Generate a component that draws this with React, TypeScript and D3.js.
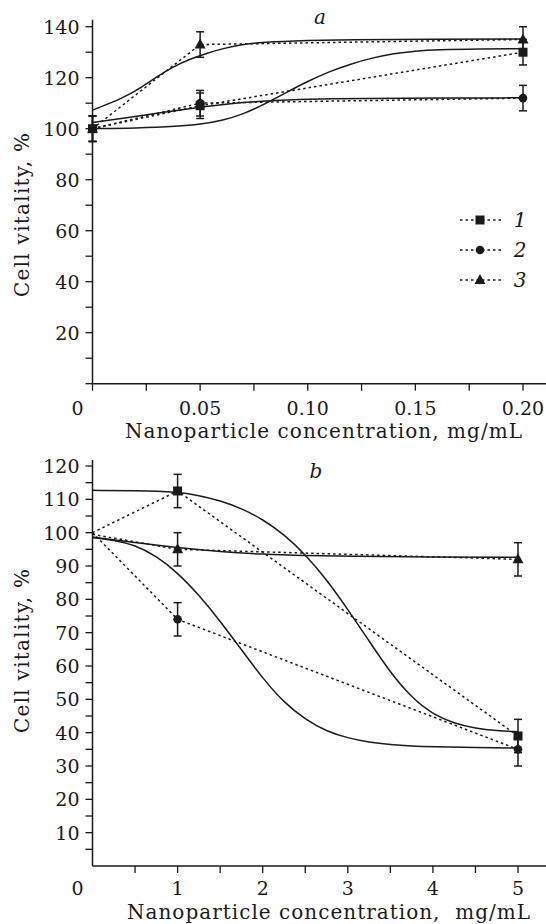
import React from "react";
import * as d3 from "d3";

// ---------- data: panel a ----------
const concA = [0, 0.05, 0.2];
const vitA1 = [100, 109, 130];
const vitA2 = [100, 110, 112];
const vitA3 = [100, 133, 135];
const errA = [5, 5, 5];

const fitA1X = [0, 0.02, 0.04, 0.05, 0.06, 0.07, 0.08, 0.09, 0.1, 0.11, 0.12, 0.13, 0.14, 0.15, 0.16, 0.18, 0.2];
const fitA1Y = [100, 100.2, 100.9, 101.7, 103.1, 105.7, 109.6, 114.2, 118.6, 122.4, 125.4, 127.8, 129.5, 130.5, 131, 131.3, 131.4];
const fitA2X = [0, 0.015, 0.03, 0.045, 0.06, 0.075, 0.09, 0.11, 0.14, 0.2];
const fitA2Y = [102.4, 104.2, 106, 107.9, 109.5, 110.6, 111.3, 111.8, 112, 112.1];
const fitA3X = [0, 0.014, 0.022, 0.03, 0.0375, 0.045, 0.053, 0.061, 0.068, 0.076, 0.092, 0.12, 0.16, 0.2];
const fitA3Y = [107.3, 111.9, 115.8, 120.4, 124.3, 127.2, 129.6, 131.5, 132.8, 133.7, 134.4, 134.9, 135.1, 135.2];

const xTicksA = [0, 0.025, 0.05, 0.075, 0.1, 0.125, 0.15, 0.175, 0.2];
const xLabelsA = [0.05, 0.1, 0.15, 0.2];
const yTicksA = d3.range(0, 141, 10);
const yLabelsA = [20, 40, 60, 80, 100, 120, 140];

// ---------- data: panel b ----------
const concB = [0, 1, 5];
const vitB1 = [100, 112.5, 39];
const vitB2 = [100, 74, 35];
const vitB3 = [99.5, 95, 92];
const errB = [0, 5, 5];

const fitB1X = [0, 0.5, 1, 1.25, 1.5, 1.75, 2, 2.25, 2.5, 2.75, 3, 3.25, 3.5, 3.75, 4, 4.25, 4.5, 4.75, 5];
const fitB1Y = [112.7, 112.6, 112.2, 111.2, 109.6, 107.3, 104, 99.5, 93.5, 86, 77, 67.5, 58, 50.5, 45.5, 42.8, 41.3, 40.6, 40.3];
const fitB2X = [0, 0.25, 0.5, 0.75, 1, 1.25, 1.5, 1.75, 2, 2.25, 2.5, 2.75, 3, 3.25, 3.5, 3.75, 4, 4.5, 5];
const fitB2Y = [98.5, 97.8, 96.3, 93, 88, 81.3, 73.5, 64.9, 56.3, 49, 44, 40.4, 38.4, 37.1, 36.4, 36, 35.8, 35.5, 35.4];
const fitB3X = [0, 0.5, 1, 1.5, 2, 2.5, 3, 4, 5];
const fitB3Y = [98.7, 97, 95.5, 94.3, 93.5, 93.1, 92.9, 92.7, 92.6];

const xTicksB = [0.5, 1, 1.5, 2, 2.5, 3, 3.5, 4, 4.5, 5];
const xLabelsB = [1, 2, 3, 4, 5];
const yTicksB = d3.range(5, 121, 5);
const yLabelsB = d3.range(10, 121, 10);

const legendLabels = ["1", "2", "3"];
const markerTypes = ["square", "circle", "triangle"];

const FONT = "'DejaVu Serif', serif";
const INK = "#1a1a1a";

function Marker({ type, x, y }: { type: string; x: number; y: number }) {
  if (type === "square") return <rect x={x - 4.5} y={y - 4.5} width={9} height={9} fill={INK} />;
  if (type === "circle") return <circle cx={x} cy={y} r={4.3} fill={INK} />;
  const p = d3.path();
  p.moveTo(x, y - 6);
  p.lineTo(x + 5.5, y + 4);
  p.lineTo(x - 5.5, y + 4);
  p.closePath();
  return <path d={p.toString()} fill={INK} />;
}

function ErrBar({ x, y0, y1 }: { x: number; y0: number; y1: number }) {
  return (
    <g stroke={INK} strokeWidth={1.5}>
      <line x1={x} x2={x} y1={y0} y2={y1} />
      <line x1={x - 4} x2={x + 4} y1={y0} y2={y0} />
      <line x1={x - 4} x2={x + 4} y1={y1} y2={y1} />
    </g>
  );
}

type Panel = {
  x: d3.ScaleLinear<number, number>;
  y: d3.ScaleLinear<number, number>;
  yTop: number;
  xRight: number;
  xTicks: number[];
  xLabels: number[];
  xFmt: (v: number) => string;
  yTicks: number[];
  yLabels: number[];
  conc: number[];
  vits: number[][];
  err: number[];
  markerFrom: number;
  fits: [number[], number[]][];
  letter: string;
  letterX: number;
  letterY: number;
  xTitle: string;
  xTitleX: number;
  xTitleY: number;
  xTitleLen: number;
  yTitleY: number;
  tickLabelY: number;
};

function PanelView({ p }: { p: Panel }) {
  const x0 = p.x(0);
  const yAxisBottom = p.y(0);
  const dotted = d3
    .line<[number, number]>()
    .x((d) => p.x(d[0]))
    .y((d) => p.y(d[1]));
  const smooth = d3
    .line<[number, number]>()
    .x((d) => p.x(d[0]))
    .y((d) => p.y(d[1]))
    .curve(d3.curveBasis);
  return (
    <g>
      {/* axes */}
      <line x1={x0} x2={x0} y1={p.y(p.yTop)} y2={yAxisBottom} stroke={INK} strokeWidth={1.5} />
      <line x1={x0} x2={p.xRight} y1={yAxisBottom} y2={yAxisBottom} stroke={INK} strokeWidth={1.5} />
      {p.yTicks.map((t) => (
        <line key={"yt" + t} x1={x0 - 7} x2={x0} y1={p.y(t)} y2={p.y(t)} stroke={INK} strokeWidth={1.3} />
      ))}
      {p.yLabels.map((t) => (
        <text key={"yl" + t} x={x0 - 13} y={p.y(t)} dy="0.36em" textAnchor="end" fontSize={19} fontFamily={FONT} fill={INK}>
          {t}
        </text>
      ))}
      {p.xTicks.map((t) => (
        <line key={"xt" + t} x1={p.x(t)} x2={p.x(t)} y1={yAxisBottom} y2={yAxisBottom + 7} stroke={INK} strokeWidth={1.3} />
      ))}
      {p.xLabels.map((t) => (
        <text key={"xl" + t} x={p.x(t)} y={p.tickLabelY} textAnchor="middle" fontSize={19} fontFamily={FONT} fill={INK}>
          {p.xFmt(t)}
        </text>
      ))}
      <text x={x0 - 15} y={p.tickLabelY} textAnchor="middle" fontSize={19} fontFamily={FONT} fill={INK}>
        0
      </text>
      <text
        x={p.xTitleX}
        y={p.xTitleY}
        textAnchor="middle"
        fontSize={20}
        fontFamily={FONT}
        fill={INK}
        textLength={p.xTitleLen}
        lengthAdjust="spacing"
        style={{ whiteSpace: "pre" }}
      >
        {p.xTitle}
      </text>
      <text
        transform={`translate(29,${p.yTitleY}) rotate(-90)`}
        textAnchor="middle"
        fontSize={20}
        fontFamily={FONT}
        fill={INK}
        textLength={164}
        lengthAdjust="spacing"
      >
        Cell vitality, %
      </text>
      <text x={p.letterX} y={p.letterY} textAnchor="middle" fontSize={20} fontStyle="italic" fontFamily={FONT} fill={INK}>
        {p.letter}
      </text>
      {/* fitted curves */}
      {p.fits.map(([xs, ys], i) => (
        <path
          key={"fit" + i}
          d={smooth(xs.map((v, j) => [v, ys[j]] as [number, number])) || ""}
          fill="none"
          stroke={INK}
          strokeWidth={1.5}
        />
      ))}
      {/* dotted connectors */}
      {p.vits.map((vs, i) => (
        <path
          key={"dot" + i}
          d={dotted(p.conc.map((c, j) => [c, vs[j]] as [number, number])) || ""}
          fill="none"
          stroke={INK}
          strokeWidth={1.5}
          strokeDasharray="2.5,3"
        />
      ))}
      {/* error bars + markers */}
      {p.vits.map((vs, i) =>
        p.conc.map((c, j) =>
          j < p.markerFrom ? null : (
            <g key={"m" + i + "-" + j}>
              <ErrBar x={p.x(c)} y0={p.y(vs[j] + p.err[j])} y1={p.y(vs[j] - p.err[j])} />
              <Marker type={markerTypes[i]} x={p.x(c)} y={p.y(vs[j])} />
            </g>
          )
        )
      )}
    </g>
  );
}

export default function App() {
  const xA = d3.scaleLinear().domain([0, 0.2]).range([92.5, 523]);
  const yA = d3.scaleLinear().domain([0, 140]).range([383.7, 26.7]);
  const xB = d3.scaleLinear().domain([0, 5]).range([92.5, 518]);
  const yB = d3.scaleLinear().domain([0, 120]).range([866, 466]);

  const panelA: Panel = {
    x: xA,
    y: yA,
    yTop: 142.7,
    xRight: 546,
    xTicks: xTicksA,
    xLabels: xLabelsA,
    xFmt: d3.format(".2f"),
    yTicks: yTicksA,
    yLabels: yLabelsA,
    conc: concA,
    vits: [vitA1, vitA2, vitA3],
    err: errA,
    markerFrom: 0,
    fits: [
      [fitA1X, fitA1Y],
      [fitA2X, fitA2Y],
      [fitA3X, fitA3Y],
    ],
    letter: "a",
    letterX: 320,
    letterY: 24,
    xTitle: "Nanoparticle concentration, mg/mL",
    xTitleX: 323.5,
    xTitleY: 438,
    xTitleLen: 397,
    yTitleY: 215,
    tickLabelY: 415,
  };
  const panelB: Panel = {
    x: xB,
    y: yB,
    yTop: 121.8,
    xRight: 546,
    xTicks: xTicksB,
    xLabels: xLabelsB,
    xFmt: d3.format("d"),
    yTicks: yTicksB,
    yLabels: yLabelsB,
    conc: concB,
    vits: [vitB1, vitB2, vitB3],
    err: errB,
    markerFrom: 1,
    fits: [
      [fitB1X, fitB1Y],
      [fitB2X, fitB2Y],
      [fitB3X, fitB3Y],
    ],
    letter: "b",
    letterX: 316,
    letterY: 478,
    xTitle: "Nanoparticle concentration,  mg/mL",
    xTitleX: 328.5,
    xTitleY: 919,
    xTitleLen: 403,
    yTitleY: 651,
    tickLabelY: 895,
  };

  return (
    <>
      <style>{`body{margin:0}`}</style>
      <svg width={546} height={924} style={{ display: "block", background: "#fff" }}>
        <rect width={546} height={924} fill="#fff" />
        <PanelView p={panelA} />
        <PanelView p={panelB} />
        {/* legend */}
        {legendLabels.map((lab, i) => {
          const ly = 220 + i * 30;
          return (
            <g key={"lg" + i}>
              <line x1={460} x2={503} y1={ly} y2={ly} stroke={INK} strokeWidth={1.5} strokeDasharray="2.5,3" />
              <Marker type={markerTypes[i]} x={480} y={ly} />
              <text x={520} y={ly} dy="0.36em" textAnchor="middle" fontSize={20} fontStyle="italic" fontFamily={FONT} fill={INK}>
                {lab}
              </text>
            </g>
          );
        })}
      </svg>
    </>
  );
}
